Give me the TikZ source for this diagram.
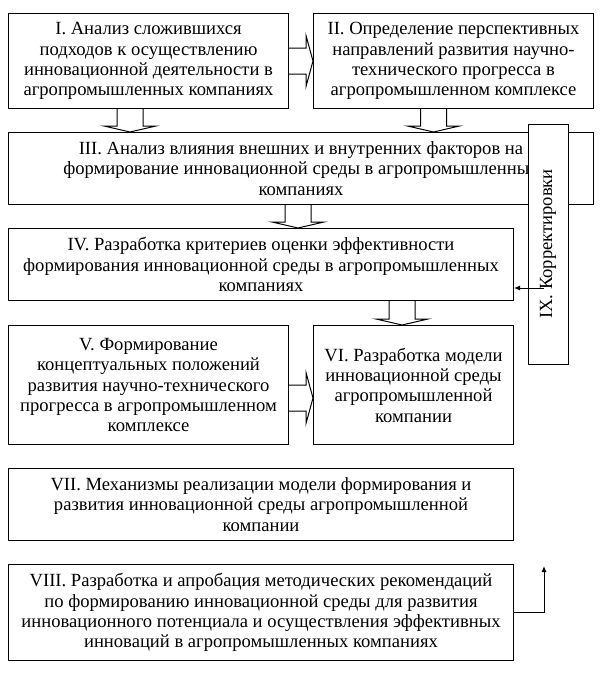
\documentclass[tikz,border=0pt]{standalone}
\usepackage{fontspec}
\setmainfont{Liberation Serif}
\usetikzlibrary{calc}
\usetikzlibrary{arrows.meta}

% hollow block arrow going down, from node #1 to node #2 at x=#3
\newcommand{\blockdown}[3]{%
\draw[blockarrow] let \p1=(#1.south), \p2=(#2.north) in
  (#3-13,\y1) -- (#3-13,\y2+6pt) -- (#3-26,\y2+6pt) -- (#3,\y2)
  -- (#3+26,\y2+6pt) -- (#3+13,\y2+6pt) -- (#3+13,\y1);
}
% hollow block arrow going right, from node #1 to node #2 at y=#3
\newcommand{\blockright}[3]{%
\draw[blockarrow] let \p1=(#1.east), \p2=(#2.west) in
  (\x1,#3+13) -- (\x2-7pt,#3+13) -- (\x2-7pt,#3+25.5) -- (\x2,#3)
  -- (\x2-7pt,#3-25.5) -- (\x2-7pt,#3-13) -- (\x1,#3-13);
}

\begin{document}
\begin{tikzpicture}[x=1pt,y=1pt,
  stagebox/.style={draw,line width=1pt,inner sep=0pt,align=center,anchor=north west,
    font=\fontsize{18.6}{20.3}\selectfont},
  blockarrow/.style={draw,fill=white,line width=1pt},
  fbarrow/.style={line width=1pt,-{Latex[length=6pt,width=5pt]}}]
\useasboundingbox (0,0) rectangle (601,-673);

\node[stagebox,minimum width=280,minimum height=95] (b1) at (8,-13)
  {I. Анализ сложившихся\\подходов к осуществлению\\инновационной деятельности в\\агропромышленных компаниях};
\node[stagebox,minimum width=280,minimum height=95] (b2) at (313,-13)
  {II. Определение перспективных\\направлений развития научно-\\технического прогресса в\\агропромышленном комплексе};
\node[stagebox,minimum width=585,minimum height=72] (b3) at (8,-132)
  {III. Анализ влияния внешних и внутренних факторов на\\формирование инновационной среды в агропромышленных\\компаниях};
\node[stagebox,minimum width=505,minimum height=72] (b4) at (8,-228)
  {IV. Разработка критериев оценки эффективности\\формирования инновационной среды в агропромышленных\\компаниях};
\node[stagebox,minimum width=280,minimum height=119] (b5) at (8,-325)
  {V. Формирование\\концептуальных положений\\развития научно-технического\\прогресса в агропромышленном\\комплексе};
\node[stagebox,minimum width=200,minimum height=119] (b6) at (313,-325)
  {VI. Разработка модели\\инновационной среды\\агропромышленной\\компании};
\node[stagebox,minimum width=505,minimum height=72] (b7) at (8,-468)
  {VII. Механизмы реализации модели формирования и\\развития инновационной среды агропромышленной\\компании};
\node[stagebox,minimum width=505,minimum height=96] (b8) at (8,-564)
  {VIII. Разработка и апробация методических рекомендаций\\по формированию инновационной среды для развития\\инновационного потенциала и осуществления эффективных\\инноваций в агропромышленных компаниях};

% corrections box, over box III
\node[stagebox,anchor=center,fill=white,rotate=90,minimum width=240,minimum height=40] (b9) at (548,-244)
  {IX. Корректировки};

\blockright{b1}{b2}{-61}
\blockdown{b1}{b3}{130}
\blockdown{b2}{b3}{433.5}
\blockdown{b3}{b4}{298}
\blockdown{b4}{b6}{402}
\blockright{b5}{b6}{-398}

\coordinate (ixfeed) at (544,-288);
\coordinate (fbend) at (544,-566);
\draw[fbarrow] (ixfeed) -- (b4.east |- ixfeed);
\draw[fbarrow] (b8.east) -| (fbend);
\end{tikzpicture}
\end{document}
